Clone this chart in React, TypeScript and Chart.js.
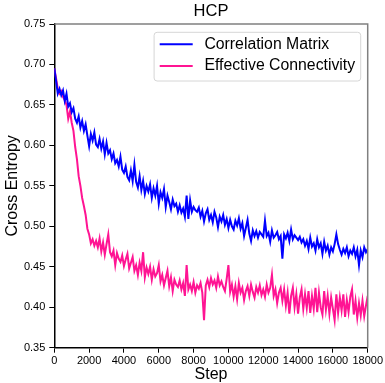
import React, { useEffect, useRef } from "react";
import { Chart, registerables } from "chart.js";

Chart.register(...registerables);

const TITLE = "HCP";
const X_LABEL = "Step";
const Y_LABEL = "Cross Entropy";
const SERIES_NAMES = ["Correlation Matrix", "Effective Connectivity"];
const SERIES_COLORS = ["#0000ff", "#ff1493"];
const STEP_INTERVAL = 100;
const X_MIN = 0;
const X_MAX = 18000;
const X_TICK_STEP = 2000;
const Y_MIN = 0.35;
const Y_MAX = 0.75;
const Y_TICK_STEP = 0.05;

const correlationMatrix = [
  0.695, 0.68, 0.664, 0.67, 0.662, 0.668, 0.655, 0.664, 0.648, 0.652,
  0.641, 0.646, 0.633, 0.628, 0.636, 0.622, 0.63, 0.618, 0.626, 0.612,
  0.599, 0.614, 0.606, 0.616, 0.601, 0.598, 0.608, 0.596, 0.605, 0.589,
  0.603, 0.59, 0.594, 0.583, 0.59, 0.578, 0.582, 0.574, 0.586, 0.57,
  0.566, 0.574, 0.561, 0.557, 0.569, 0.556, 0.576, 0.555, 0.548, 0.562,
  0.545, 0.556, 0.54, 0.55, 0.543, 0.552, 0.535, 0.547, 0.538, 0.55,
  0.528, 0.542, 0.535, 0.546, 0.524, 0.538, 0.53, 0.521, 0.533, 0.525,
  0.528, 0.518, 0.526, 0.517, 0.522, 0.512, 0.538, 0.509, 0.532, 0.518,
  0.524, 0.52, 0.518, 0.523, 0.512, 0.519, 0.506, 0.516, 0.521, 0.508,
  0.514, 0.505, 0.518, 0.511, 0.499, 0.512, 0.506, 0.514, 0.502, 0.509,
  0.498, 0.508, 0.5, 0.496, 0.507, 0.501, 0.51, 0.497, 0.504, 0.488,
  0.498, 0.508, 0.491, 0.482, 0.495, 0.488, 0.494, 0.486, 0.493, 0.49,
  0.487, 0.507, 0.488, 0.492, 0.481, 0.495, 0.486, 0.489, 0.493, 0.484,
  0.488, 0.46, 0.49, 0.485, 0.492, 0.482, 0.496, 0.484, 0.489, 0.486,
  0.483, 0.487, 0.48, 0.484, 0.476, 0.482, 0.472, 0.486, 0.475, 0.479,
  0.47, 0.484, 0.474, 0.479, 0.466, 0.481, 0.47, 0.476, 0.465, 0.474,
  0.469, 0.478, 0.49, 0.478, 0.471, 0.465, 0.472, 0.467, 0.474, 0.463,
  0.47, 0.466, 0.474, 0.463, 0.471, 0.452, 0.47, 0.462, 0.474, 0.468,
  0.472,
];

const effectiveConnectivity = [
  0.695, 0.683, 0.67, 0.664, 0.667, 0.66, 0.656, 0.65, 0.633, 0.642,
  0.628, 0.618, 0.598, 0.583, 0.562, 0.55, 0.535, 0.525, 0.514, 0.497,
  0.49, 0.479, 0.484, 0.476, 0.482, 0.474, 0.485, 0.469, 0.48, 0.465,
  0.478, 0.49, 0.468, 0.463, 0.47, 0.452, 0.467, 0.46, 0.456, 0.464,
  0.451, 0.459, 0.466, 0.448, 0.455, 0.462, 0.445, 0.452, 0.44, 0.455,
  0.445, 0.468, 0.437, 0.449, 0.441, 0.45, 0.434, 0.447, 0.438, 0.442,
  0.452, 0.432, 0.44, 0.427, 0.436, 0.445, 0.426, 0.437, 0.42, 0.434,
  0.428, 0.425, 0.433, 0.422, 0.43, 0.414, 0.452, 0.422, 0.428, 0.42,
  0.431, 0.418, 0.427, 0.423, 0.43, 0.418, 0.384, 0.427, 0.434, 0.425,
  0.436, 0.428, 0.433, 0.424, 0.438, 0.427, 0.432, 0.425, 0.42, 0.435,
  0.452, 0.419, 0.428, 0.413, 0.426, 0.41, 0.43, 0.418, 0.424, 0.409,
  0.42, 0.426, 0.414, 0.428, 0.419, 0.412, 0.425, 0.418, 0.427, 0.415,
  0.422, 0.413, 0.428, 0.418, 0.424, 0.44, 0.414, 0.422, 0.405, 0.418,
  0.424, 0.408, 0.422, 0.402, 0.418, 0.392, 0.414, 0.424, 0.4, 0.416,
  0.392, 0.412, 0.422, 0.398, 0.416, 0.399, 0.42, 0.393, 0.414, 0.398,
  0.424, 0.394, 0.418, 0.4, 0.391, 0.42, 0.397, 0.414, 0.392, 0.412,
  0.398, 0.384, 0.416, 0.393, 0.412, 0.396, 0.416, 0.388, 0.409, 0.394,
  0.413, 0.422, 0.391, 0.408, 0.387, 0.405, 0.39, 0.408, 0.389, 0.402,
  0.414,
];

const steps = correlationMatrix.map((_, i) => i * STEP_INTERVAL);

const FONT = '"Liberation Sans", Arial, Helvetica, sans-serif';

const framePlugin = {
  id: "frameAndLegend",
  afterDraw(chart: any) {
    const { ctx, chartArea } = chart;
    const { left, right, top, bottom } = chartArea;
    ctx.save();
    ctx.strokeStyle = "#808080";
    ctx.lineWidth = 1.5;
    ctx.beginPath();
    ctx.moveTo(left, top);
    ctx.lineTo(right, top);
    ctx.lineTo(right, bottom);
    ctx.stroke();

    // title centred over the plot area
    ctx.fillStyle = "#000";
    ctx.font = `16.5px ${FONT}`;
    ctx.textAlign = "center";
    ctx.textBaseline = "middle";
    ctx.fillText(TITLE, (left + right) / 2, top - 12.3);

    const bw = 206.6;
    const bh = 48.7;
    const bx = right - 7 - bw;
    const by = top + 8.3;
    const r = 3;
    ctx.beginPath();
    ctx.moveTo(bx + r, by);
    ctx.lineTo(bx + bw - r, by);
    ctx.arcTo(bx + bw, by, bx + bw, by + r, r);
    ctx.lineTo(bx + bw, by + bh - r);
    ctx.arcTo(bx + bw, by + bh, bx + bw - r, by + bh, r);
    ctx.lineTo(bx + r, by + bh);
    ctx.arcTo(bx, by + bh, bx, by + bh - r, r);
    ctx.lineTo(bx, by + r);
    ctx.arcTo(bx, by, bx + r, by, r);
    ctx.closePath();
    ctx.fillStyle = "rgba(255,255,255,0.85)";
    ctx.fill();
    ctx.strokeStyle = "#d6d6d6";
    ctx.lineWidth = 1;
    ctx.stroke();

    const rows = [by + 12, by + 33.7];
    SERIES_NAMES.forEach((name, i) => {
      const y = rows[i];
      ctx.strokeStyle = SERIES_COLORS[i];
      ctx.lineWidth = 2;
      ctx.beginPath();
      ctx.moveTo(bx + 5.6, y);
      ctx.lineTo(bx + 38.6, y);
      ctx.stroke();
      ctx.fillStyle = "#000";
      ctx.font = `15.8px ${FONT}`;
      ctx.textBaseline = "middle";
      ctx.textAlign = "left";
      ctx.fillText(name, bx + 50.3, y);
    });
    ctx.restore();
  },
};

export default function App() {
  const canvasRef = useRef<HTMLCanvasElement | null>(null);

  useEffect(() => {
    document.body.style.margin = "0";
    const canvas = canvasRef.current;
    if (!canvas) return;
    Chart.defaults.font.family = FONT;
    const chart = new Chart(canvas, {
      type: "line",
      data: {
        datasets: [correlationMatrix, effectiveConnectivity].map((vals, i) => ({
          label: SERIES_NAMES[i],
          data: vals.map((v, j) => ({ x: steps[j], y: v })),
          borderColor: SERIES_COLORS[i],
          backgroundColor: SERIES_COLORS[i],
          borderWidth: 2,
          pointRadius: 0,
          tension: 0,
          fill: false,
        })),
      },
      options: {
        animation: false,
        responsive: false,
        maintainAspectRatio: false,
        events: [],
        layout: { padding: { left: 0, right: 15.7, top: 24, bottom: 0 } },
        plugins: {
          legend: { display: false },
          tooltip: { enabled: false },
          title: { display: false },
        },
        scales: {
          x: {
            type: "linear",
            min: X_MIN,
            max: X_MAX,
            afterFit: (scale: any) => {
              scale.height = 35.3;
            },
            ticks: {
              stepSize: X_TICK_STEP,
              color: "#000",
              font: { size: 11, family: FONT },
              padding: 2,
              maxRotation: 0,
              autoSkip: false,
              callback: (v: any) => String(v),
            },
            grid: {
              display: true,
              drawOnChartArea: false,
              drawTicks: true,
              tickLength: 5,
              color: "#000",
              lineWidth: 1,
            },
            border: { display: true, color: "#000", width: 1.5 },
            title: {
              display: true,
              text: X_LABEL,
              color: "#000",
              font: { size: 16, family: FONT },
              padding: { top: 0, bottom: -1 },
            },
          },
          y: {
            type: "linear",
            min: Y_MIN,
            max: Y_MAX,
            afterFit: (scale: any) => {
              scale.width = 54.3;
            },
            ticks: {
              stepSize: Y_TICK_STEP,
              color: "#000",
              font: { size: 11, family: FONT },
              padding: 4,
              callback: (v: any) => Number(v).toFixed(2),
            },
            grid: {
              display: true,
              drawOnChartArea: false,
              drawTicks: true,
              tickLength: 5,
              color: "#000",
              lineWidth: 1,
            },
            border: { display: true, color: "#000", width: 1.5 },
            title: {
              display: true,
              text: Y_LABEL,
              color: "#000",
              font: { size: 16, family: FONT },
              padding: { top: 2.6, bottom: 0 },
            },
          },
        },
      },
      plugins: [framePlugin],
    });
    return () => chart.destroy();
  }, []);

  return (
    <div style={{ position: "absolute", left: 0, top: 0, width: 385, height: 383, background: "#fff" }}>
      <canvas ref={canvasRef} width={385} height={383} style={{ width: 385, height: 383, display: "block" }} />
    </div>
  );
}
